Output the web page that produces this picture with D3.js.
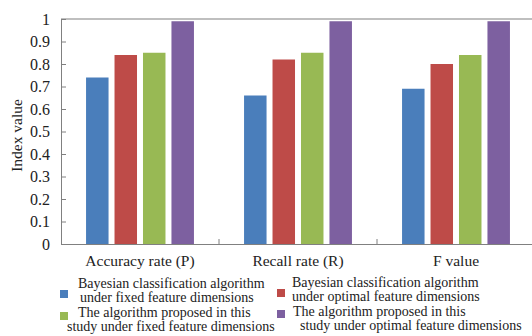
<!DOCTYPE html>
<html><head><meta charset="utf-8">
<script src="https://cdn.jsdelivr.net/npm/d3@7"></script>
<style>
html,body{margin:0;padding:0;background:#fff;}
</style></head>
<body>
<svg id="c" width="532" height="336"></svg>
<script>
const categories = ["Accuracy rate (P)", "Recall rate (R)", "F value"];
const seriesNames = [
  ["Bayesian classification algorithm", "under fixed feature dimensions"],
  ["Bayesian classification algorithm", "under optimal feature dimensions"],
  ["The algorithm proposed in this", "study under fixed feature dimensions"],
  ["The algorithm proposed in this", "study under optimal feature dimensions"]
];
const bayesFixed   = [0.74, 0.66, 0.69];
const bayesOptimal = [0.84, 0.82, 0.80];
const oursFixed    = [0.85, 0.85, 0.84];
const oursOptimal  = [0.99, 0.99, 0.99];
const yTicks = [0, 0.1, 0.2, 0.3, 0.4, 0.5, 0.6, 0.7, 0.8, 0.9, 1];
const colors = ["#4a7ebb", "#be4b48", "#98b954", "#7d60a0"];

const FONT = "'Liberation Serif'";
const series = [bayesFixed, bayesOptimal, oursFixed, oursOptimal];
const svg = d3.select("#c");
const m = {left: 61, top: 19, right: -3, bottom: 92};
const W = 532, H = 336;
const x0 = d3.scaleBand().domain(categories).range([m.left, W - m.right]).paddingInner(0).paddingOuter(0);
const x1 = d3.scaleBand().domain(d3.range(4)).range([0, x0.bandwidth()]).paddingInner(0.21).paddingOuter(0.88);
const y = d3.scaleLinear().domain([0, 1]).range([H - m.bottom, m.top]);

// top frame line
svg.append("line").attr("x1", m.left).attr("x2", W).attr("y1", y(1)).attr("y2", y(1))
  .attr("stroke", "#808080").attr("stroke-width", 1.2);

// bars
categories.forEach((c, ci) => {
  series.forEach((s, si) => {
    svg.append("rect")
      .attr("x", x0(c) + x1(si))
      .attr("width", x1.bandwidth())
      .attr("y", y(s[ci]))
      .attr("height", y(0) - y(s[ci]))
      .attr("fill", colors[si]);
  });
});

// y axis
const yAxis = svg.append("g").attr("transform", `translate(${m.left},0)`)
  .call(d3.axisLeft(y).tickValues(yTicks).tickSizeInner(-5).tickSizeOuter(0).tickPadding(7)
    .tickFormat(d => d3.format("")(+d.toFixed(1))));
yAxis.select(".domain").attr("stroke", "#808080");
yAxis.selectAll(".tick line").attr("stroke", "#808080");
yAxis.selectAll("text").style("font-family", FONT).attr("font-size", 16).attr("fill", "#222").attr("dx", -4);

// x axis
const xAxis = svg.append("g").attr("transform", `translate(0,${y(0)})`)
  .call(d3.axisBottom(x0).tickSize(0).tickPadding(11));
xAxis.select(".domain").attr("stroke", "#808080");
xAxis.selectAll("text").style("font-family", FONT).attr("font-size", 15.5).attr("fill", "#222");
// boundary ticks
svg.append("g").selectAll("line").data(categories.slice(1)).join("line")
  .attr("x1", d => x0(d)).attr("x2", d => x0(d))
  .attr("y1", y(0)).attr("y2", y(0) - 5).attr("stroke", "#808080");

// y label
svg.append("text").attr("transform", `translate(22,${(y(0)+y(1))/2 + 4}) rotate(-90)`)
  .style("font-family", FONT)
  .attr("text-anchor", "middle").attr("font-size", 15.5).attr("fill", "#222").text("Index value");

// legend
const legPos = [
  {sx: 60, sy: 290, lines: [[78, 288], [80, 302]]},
  {sx: 277, sy: 289, lines: [[292, 287], [292, 301]]},
  {sx: 60, sy: 312, lines: [[78, 317], [67, 331]]},
  {sx: 277, sy: 310, lines: [[293, 316], [300, 330]]}
];
seriesNames.forEach((nm, i) => {
  const p = legPos[i];
  svg.append("rect").attr("x", p.sx).attr("y", p.sy).attr("width", 8).attr("height", 8).attr("fill", colors[i]);
  nm.forEach((t, j) => {
    svg.append("text").attr("x", p.lines[j][0]).attr("y", p.lines[j][1])
      .style("font-family", FONT)
      .attr("font-size", 14).attr("fill", "#222").text(t);
  });
});
</script>
</body></html>
